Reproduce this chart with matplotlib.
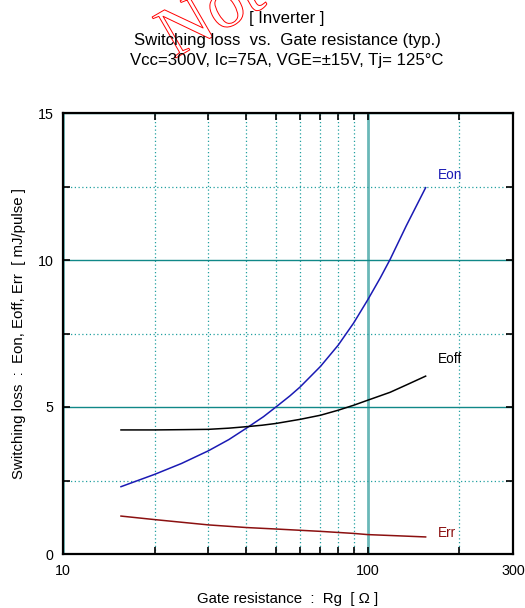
import matplotlib
matplotlib.use("Agg")
import matplotlib.pyplot as plt
import matplotlib.patheffects as pe
from matplotlib.ticker import FixedLocator, NullFormatter, FixedFormatter

plt.rcParams['font.family'] = ['Liberation Sans', 'DejaVu Sans']

# Data (Gate resistance Rg [ohm] vs switching loss [mJ/pulse])
rg_eon = [15.5, 20, 24.5, 30, 35, 40, 45.5, 50, 55.6, 60, 70, 80, 90, 100, 110, 118.5, 134, 155]
eon = [2.29, 2.71, 3.08, 3.51, 3.89, 4.28, 4.67, 5.00, 5.38, 5.68, 6.38, 7.10, 7.86, 8.64, 9.39, 10.02, 11.17, 12.46]

rg_eoff = [15.5, 20, 25, 30, 35, 40, 45, 50, 60, 70, 80, 90, 100, 118.5, 134, 155]
eoff = [4.22, 4.22, 4.23, 4.24, 4.28, 4.33, 4.38, 4.44, 4.58, 4.72, 4.89, 5.06, 5.23, 5.50, 5.75, 6.05]

rg_err = [15.5, 20, 30, 40, 50, 70, 90, 100, 125, 155]
err = [1.29, 1.17, 0.99, 0.90, 0.85, 0.77, 0.70, 0.66, 0.62, 0.58]

x_major = [10, 100, 300]
x_major_labels = ['10', '100', '300']
x_minor = [20, 30, 40, 50, 60, 70, 80, 90, 200]
y_major = [0, 5, 10, 15]
y_minor = [2.5, 7.5, 12.5]

title_lines = ["[ Inverter ]",
               "Switching loss  vs.  Gate resistance (typ.)",
               "Vcc=300V, Ic=75A, VGE=\u00b115V, Tj= 125\u00b0C"]
title_y_px = [18, 40, 60]

fig = plt.figure(figsize=(5.25, 6.08), dpi=100)
ax = fig.add_axes([63/525, 54/608, 450/525, 441/608])

ax.plot(rg_eon, eon, color='#1a1ab4', lw=1.1, zorder=3)
ax.plot(rg_eoff, eoff, color='black', lw=1.1, zorder=3)
ax.plot(rg_err, err, color='#8b1010', lw=1.1, zorder=3)

ax.set_xscale('log')
ax.set_xlim(10, 300)
ax.set_ylim(0, 15)
ax.xaxis.set_major_locator(FixedLocator(x_major))
ax.xaxis.set_major_formatter(FixedFormatter(x_major_labels))
ax.xaxis.set_minor_locator(FixedLocator(x_minor))
ax.xaxis.set_minor_formatter(NullFormatter())
ax.yaxis.set_major_locator(FixedLocator(y_major))
ax.yaxis.set_minor_locator(FixedLocator(y_minor))

ax.grid(True, which='major', axis='x', color='#6ab8b8', lw=2.0, ls='-')
ax.grid(True, which='major', axis='y', color='#108888', lw=1.0, ls='-')
ax.grid(True, which='minor', axis='both', color='#22a0a0', lw=0.9, ls=(0, (1, 2)))
ax.set_axisbelow(True)

ax.tick_params(which='both', direction='in', top=True, right=True,
               length=5, width=1.2, labelsize=10.3, pad=7)
for s in ax.spines.values():
    s.set_linewidth(1.6)

ax.set_xlabel("Gate resistance \u00a0:\u00a0 Rg \u00a0[ \u03a9 ]", fontsize=10.8, labelpad=10)
ax.set_ylabel("Switching loss \u00a0:\u00a0 Eon, Eoff, Err \u00a0[ mJ/pulse ]", fontsize=10.8, labelpad=8)

ax.text(170, 12.9, "Eon", color='#1a1ab4', fontsize=9.8, ha='left', va='center')
ax.text(170, 6.63, "Eoff", color='black', fontsize=9.8, ha='left', va='center')
ax.text(170, 0.71, "Err", color='#8b1010', fontsize=9.8, ha='left', va='center')

for line, ypx in zip(title_lines, title_y_px):
    fig.text(287/525, 1 - ypx / 608, line, ha='center', va='center', fontsize=12.1)

# watermark (red outline, partly outside the page)
fig.text(174/525, 1 - 59/608, "Not recommended", fontsize=52,
         family='Liberation Serif', rotation=30, rotation_mode='anchor',
         color='none', ha='left', va='baseline',
         path_effects=[pe.Stroke(linewidth=0.7, foreground='red')], zorder=0)

fig.savefig("out.png", dpi=100)
